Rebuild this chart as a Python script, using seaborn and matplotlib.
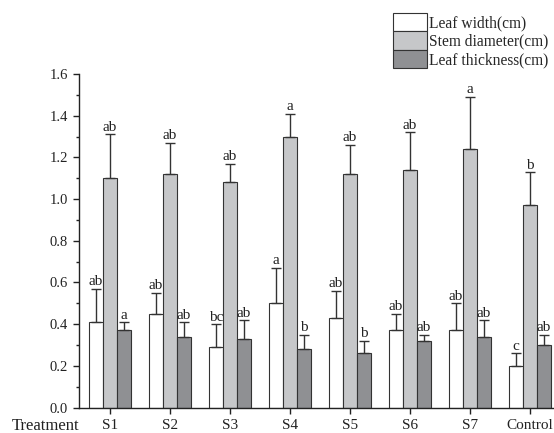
import numpy as np
import pandas as pd
import matplotlib
matplotlib.use("Agg")
import matplotlib.pyplot as plt
from matplotlib.ticker import MultipleLocator
import seaborn as sns

# values
treatments = ["S1", "S2", "S3", "S4", "S5", "S6", "S7", "Control"]
series = ["Leaf width(cm)", "Stem diameter(cm)", "Leaf thickness(cm)"]

leaf_width = [0.41, 0.45, 0.29, 0.50, 0.43, 0.37, 0.37, 0.20]
stem_diameter = [1.10, 1.12, 1.08, 1.30, 1.12, 1.14, 1.24, 0.97]
leaf_thickness = [0.37, 0.34, 0.33, 0.28, 0.26, 0.32, 0.34, 0.30]

leaf_width_err = [0.16, 0.10, 0.11, 0.17, 0.13, 0.08, 0.13, 0.06]
stem_diameter_err = [0.21, 0.15, 0.09, 0.11, 0.14, 0.18, 0.25, 0.16]
leaf_thickness_err = [0.04, 0.07, 0.09, 0.07, 0.06, 0.03, 0.08, 0.05]

leaf_width_sig = ["ab", "ab", "bc", "a", "ab", "ab", "ab", "c"]
stem_diameter_sig = ["ab", "ab", "ab", "a", "ab", "ab", "a", "b"]
leaf_thickness_sig = ["a", "ab", "ab", "b", "b", "ab", "ab", "ab"]

values = [leaf_width, stem_diameter, leaf_thickness]
errors = [leaf_width_err, stem_diameter_err, leaf_thickness_err]
letters = [leaf_width_sig, stem_diameter_sig, leaf_thickness_sig]
colors = ["#ffffff", "#c6c7c9", "#8f9093"]

df = pd.DataFrame({
    "Treatment": treatments * 3,
    "Series": np.repeat(series, len(treatments)),
    "Value": leaf_width + stem_diameter + leaf_thickness,
})

sns.set_style("ticks")
plt.rcParams["font.family"] = ["Liberation Serif", "DejaVu Serif"]
plt.rcParams["axes.edgecolor"] = "#222222"
plt.rcParams["xtick.color"] = "#222222"
plt.rcParams["ytick.color"] = "#222222"

fig = plt.figure(figsize=(5.54, 4.33), dpi=100)
ax = fig.add_axes([0.1432, 0.0587, 0.8568, 0.7704])

sns.barplot(data=df, x="Treatment", y="Value", hue="Series", order=treatments,
            hue_order=series, palette=colors, errorbar=None, width=0.69,
            gap=0, edgecolor="#333333", linewidth=0.8, saturation=1, ax=ax)

# one-sided error bars and significance letters on top of each bar
for cont, err, sig in zip(ax.containers, errors, letters):
    xs = [b.get_x() + b.get_width() / 2 for b in cont]
    hs = [b.get_height() for b in cont]
    ax.errorbar(xs, hs, yerr=[np.zeros(len(err)), err], fmt="none",
                ecolor="#333333", elinewidth=1, capsize=3.5, capthick=1)
    for x, h, e, s in zip(xs, hs, err, sig):
        ax.annotate(s, (x, h + e), xytext=(0, 2.5), textcoords="offset points",
                    ha="center", va="baseline", fontsize=11, color="#222222")

ax.set_xlim(-0.51, 7.4)
ax.set_ylim(0, 1.6)
ax.yaxis.set_minor_locator(MultipleLocator(0.1))
ax.set_yticks(np.arange(0, 1.61, 0.2))
ax.set_yticklabels([f"{v:.1f}" for v in np.arange(0, 1.61, 0.2)])
ax.tick_params(axis="y", which="major", length=4.5, width=1, pad=3.5, labelsize=10.5)
ax.tick_params(axis="y", which="minor", length=2.5, width=1)
ax.tick_params(axis="x", length=4.5, width=1, pad=4, labelsize=11)
ax.set_xlabel("")
ax.set_ylabel("")
for sp in ["top", "right"]:
    ax.spines[sp].set_visible(False)
for sp in ["left", "bottom"]:
    ax.spines[sp].set_linewidth(1)

ax.annotate("Treatment", xy=(0, 0), xycoords="axes fraction", xytext=(0, -13.5),
            textcoords="offset points", ha="right", va="center", fontsize=12,
            color="#222222")

handles, labels = ax.get_legend_handles_labels()
ax.legend(handles, labels, loc="upper left", bbox_to_anchor=(392.7 / 554, 1 - 13 / 433),
          bbox_transform=fig.transFigure, frameon=False, fontsize=11.2,
          handlelength=2.18, handleheight=1.45, labelspacing=0.0,
          handletextpad=0.15, borderpad=0, borderaxespad=0)

fig.savefig("out.png", dpi=100)
